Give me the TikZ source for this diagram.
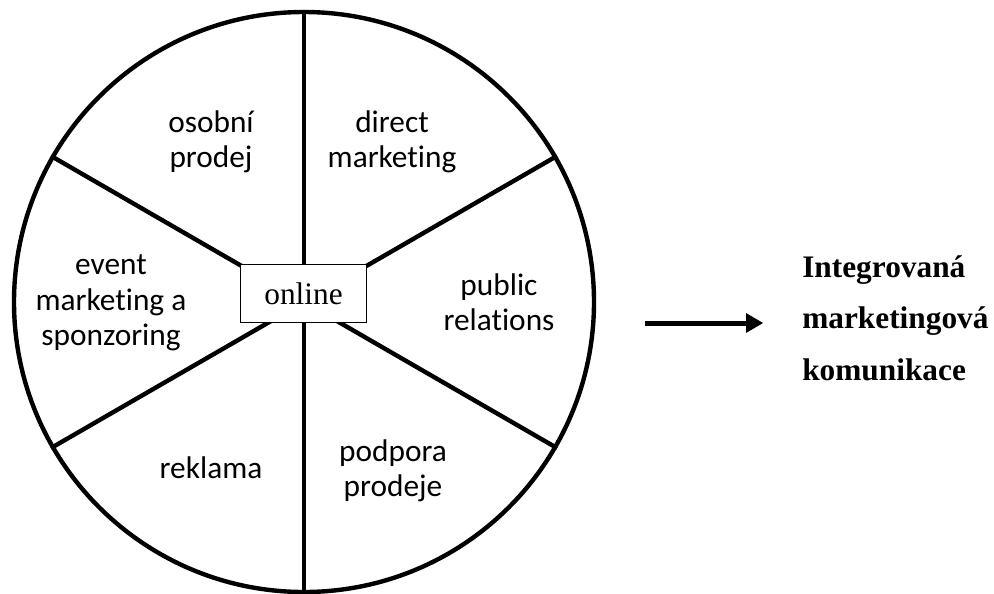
\documentclass[tikz,border=0pt]{standalone}
\usepackage{fontspec}
\setmainfont{Liberation Serif}
\newfontfamily\segfont[Ligatures=NoCommon]{Carlito}
\usetikzlibrary{arrows.meta}

\begin{document}
\begin{tikzpicture}[x=0.75pt,y=0.75pt,yscale=-1,xscale=1,
  wheel/.style={draw,circle,line width=3.3pt,minimum size=435pt,inner sep=0pt},
  spoke/.style={line width=3.3pt},
  seg/.style={align=center,inner sep=0.75pt,font=\segfont\fontsize{23.5}{26.5}\selectfont},
  centerbox/.style={draw,fill=white,line width=0.75pt,minimum width=95pt,minimum height=44pt,inner sep=0pt,font=\fontsize{23.5}{28}\selectfont},
  imk/.style={align=left,inner sep=0pt,font=\bfseries\fontsize{23.5}{38.5}\selectfont},
  arrowline/.style={line width=3.75pt,-{Triangle[length=13pt,width=14pt]}}]
\useasboundingbox (0,0) rectangle (994,593);

%Wheel
\node [wheel] (wheel) at (304,302) {};
\foreach \a in {30,90,150,210,270,330}
  \draw [spoke] (wheel.center) -- (wheel.\a);

%Center box
\node [centerbox] (online) at (303.5,293.5) {online};

% Text Node
\node [seg] (osobni) at (211,142) {osobní\\prodej};
% Text Node
\node [seg] (direct) at (392,142) {direct\\marketing};
% Text Node
\node [seg] (event) at (111,303) {event\\marketing a\\sponzoring};
% Text Node
\node [seg] (pr) at (499,302) {public\\relations};
% Text Node
\node [seg] (reklama) at (211,468) {reklama};
% Text Node
\node [seg] (podpora) at (393,471) {podpora\\prodeje};

%Result
\node [imk, anchor=west] (result) at (802,318) {Integrovaná\\marketingová\\komunikace};
\coordinate (from) at (645,323);
\draw [arrowline, shorten >=29pt] (from) -- (from -| result.west);

\end{tikzpicture}
\end{document}
